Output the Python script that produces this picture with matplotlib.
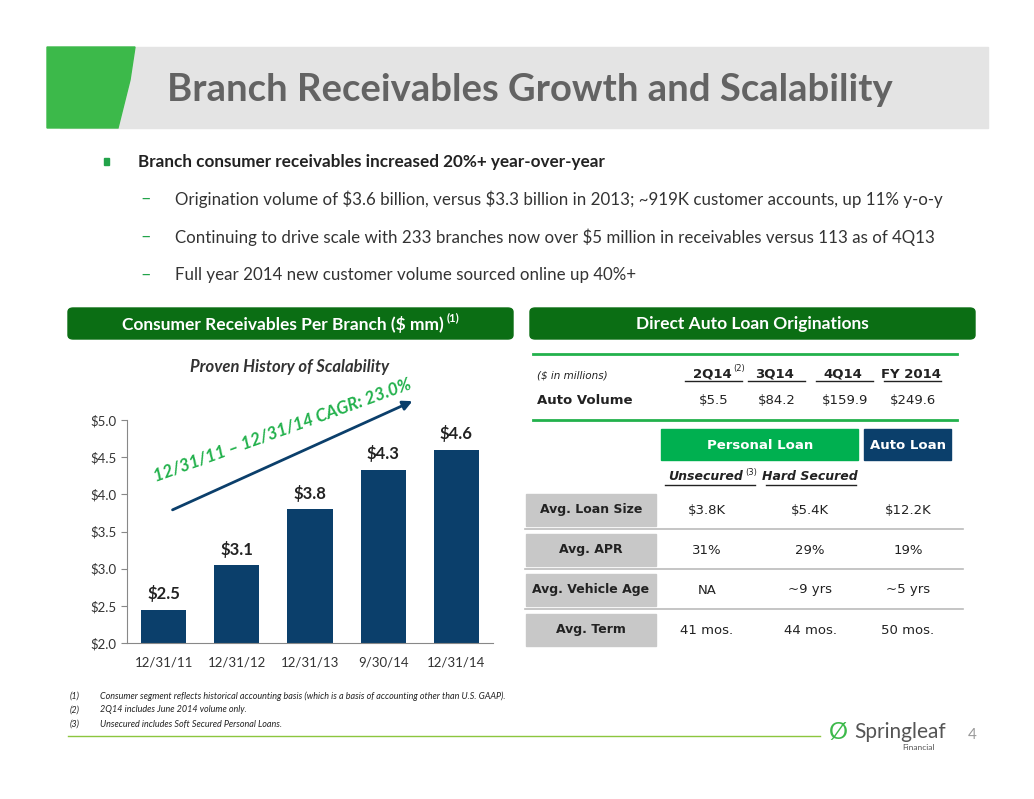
import matplotlib
matplotlib.use("Agg")
import matplotlib.pyplot as plt
from matplotlib.patches import Rectangle, FancyBboxPatch, Polygon
import numpy as np

plt.rcParams['text.parse_math'] = False

categories = ["12/31/11", "12/31/12", "12/31/13", "9/30/14", "12/31/14"]
values = [2.45, 3.05, 3.80, 4.33, 4.60]
value_labels = ["$2.5", "$3.1", "$3.8", "$4.3", "$4.6"]
yticks = [2.0, 2.5, 3.0, 3.5, 4.0, 4.5, 5.0]

auto_cols = ["2Q14", "3Q14", "4Q14", "FY 2014"]
auto_vals = ["$5.5", "$84.2", "$159.9", "$249.6"]
row_labels = ["Avg. Loan Size", "Avg. APR", "Avg. Vehicle Age", "Avg. Term"]
unsecured = ["$3.8K", "31%", "NA", "41 mos."]
hard_secured = ["$5.4K", "29%", "~9 yrs", "44 mos."]
auto_loan = ["$12.2K", "19%", "~5 yrs", "50 mos."]

W, H = 1034, 799
fig = plt.figure(figsize=(W/100, H/100), dpi=100)
BODY = "Lato"
TAB = "DejaVu Sans"

def fx(x): return x / W
def fy(y): return 1 - y / H
def T(x, y, s, **kw):
    return fig.text(fx(x), fy(y), s, **kw)
def rect(x0, y0, x1, y1, **kw):
    fig.patches.append(Rectangle((fx(x0), fy(y1)), fx(x1) - fx(x0), fy(y0) - fy(y1),
                                 transform=fig.transFigure, **kw))
def hline(x0, x1, y, **kw):
    fig.add_artist(plt.Line2D([fx(x0), fx(x1)], [fy(y), fy(y)], transform=fig.transFigure, **kw))

# title band
rect(60, 47, 988, 128, color="#e4e4e4", zorder=0)
fig.patches.append(Polygon([(fx(47), fy(47)), (fx(135), fy(47)), (fx(130), fy(80)), (fx(118), fy(128)), (fx(47), fy(128))],
                           closed=True, transform=fig.transFigure, color="#3cb94a", zorder=1))
T(167, 90, "Branch Receivables Growth and Scalability", fontsize=27.5, fontweight="bold",
  color="#636363", family=BODY, va="center")

# bullets
rect(104, 158, 109, 165, color="#22a34a")
T(138, 162, "Branch consumer receivables increased 20%+ year-over-year", fontsize=12.3,
  fontweight="bold", color="#222222", family=BODY, va="center")
subs = ["Origination volume of $3.6 billion, versus $3.3 billion in 2013; ~919K customer accounts, up 11% y-o-y",
        "Continuing to drive scale with 233 branches now over $5 million in receivables versus 113 as of 4Q13",
        "Full year 2014 new customer volume sourced online up 40%+"]
for i, s in enumerate(subs):
    y = 199 + i * 38
    T(140, y, "–", fontsize=13, color="#22a34a", family=BODY, va="center")
    T(175, y, s, fontsize=12.2, color="#333333", family=BODY, va="center")

# green header boxes
for x0, x1 in [(68, 513), (530, 975)]:
    fig.patches.append(FancyBboxPatch((fx(x0), fy(339)), fx(x1) - fx(x0), fy(308) - fy(339),
                       boxstyle="round,pad=0,rounding_size=0.005", transform=fig.transFigure,
                       color="#0b6e14"))
T(283, 324, "Consumer Receivables Per Branch ($ mm)", fontsize=12.5, fontweight="bold",
  color="white", family=BODY, ha="center", va="center")
T(453, 318, "(1)", fontsize=8, fontweight="bold", color="white", family=BODY, ha="center", va="center")
T(752, 324, "Direct Auto Loan Originations", fontsize=12.5, fontweight="bold",
  color="white", family=BODY, ha="center", va="center")

# chart
T(290, 367, "Proven History of Scalability", fontsize=12, fontweight="bold",
  style="italic", color="#333333", family=BODY, ha="center", va="center")
ax = fig.add_axes([fx(127), fy(643), fx(493) - fx(127), fy(420) - fy(643)])
x = np.arange(len(categories))
ax.bar(x, values, width=0.62, color="#0b3f6b")
ax.set_ylim(2.0, 5.0)
ax.set_xlim(-0.5, 4.5)
ax.set_yticks(yticks)
ax.set_yticklabels([f"${v:.1f}" for v in yticks], fontsize=9.5, family=BODY, color="#333333")
ax.set_xticks(x)
ax.set_xticklabels(categories, fontsize=9.5, family=BODY, color="#333333")
ax.tick_params(axis="x", length=0, pad=10)
ax.tick_params(axis="y", length=4, color="#888888")
for s in ["top", "right"]:
    ax.spines[s].set_visible(False)
for s in ["left", "bottom"]:
    ax.spines[s].set_color("#888888")
for xi, v, lab in zip(x, values, value_labels):
    ax.text(xi, v + 0.1, lab, ha="center", va="bottom", fontsize=12, fontweight="bold",
            family=BODY, color="#222222")

# CAGR arrow
fig.add_artist(matplotlib.patches.FancyArrowPatch((fx(170), fy(511)), (fx(415), fy(400)),
               transform=fig.transFigure, arrowstyle="-|>", mutation_scale=14,
               color="#0b3f6b", lw=2))
T(282, 430, "12/31/11 – 12/31/14 CAGR: 23.0%", fontsize=12.5, fontweight="bold",
  style="italic", color="#22b14c", family=BODY, ha="center", va="center", rotation=20,
  rotation_mode="anchor")

# auto volume table
TS = 9.5
hline(533, 957, 354, color="#22b14c", lw=2)
hline(533, 957, 420, color="#22b14c", lw=2)
T(537, 376, "($ in millions)", fontsize=7.5, style="italic", color="#222222", family=TAB, va="center")
T(537, 401, "Auto Volume", fontsize=TS, fontweight="bold", color="#222222", family=TAB, va="center")
col_x = [714, 777, 845, 913]
for cx, c, v in zip(col_x, auto_cols, auto_vals):
    T(cx - 2, 374, c, fontsize=TS, fontweight="bold", color="#222222", family=TAB, ha="center", va="center")
    hline(cx - 29, cx + 28, 381, color="#222222", lw=1)
    T(cx, 401, v, fontsize=TS, color="#222222", family=TAB, ha="center", va="center")
T(733, 369, "(2)", fontsize=6, color="#222222", family=TAB, va="center")

# loan header
rect(661, 429, 858, 460, color="#00b050")
T(760, 445, "Personal Loan", fontsize=TS, fontweight="bold", color="white", family=TAB, ha="center", va="center")
rect(864, 429, 951, 460, color="#0b3f6b")
T(908, 445, "Auto Loan", fontsize=TS, fontweight="bold", color="white", family=TAB, ha="center", va="center")
T(706, 476, "Unsecured", fontsize=9, fontweight="bold", style="italic", color="#222222", family=TAB, ha="center", va="center")
T(745, 472, "(3)", fontsize=6, color="#222222", family=TAB, va="center")
T(810, 476, "Hard Secured", fontsize=9, fontweight="bold", style="italic", color="#222222", family=TAB, ha="center", va="center")
hline(665, 755, 485, color="#222222", lw=1)
hline(766, 856, 485, color="#222222", lw=1)

for i, lab in enumerate(row_labels):
    yc = 510 + i * 40
    rect(526, yc - 16, 656, yc + 16, color="#c8c8c8")
    T(591, yc, lab, fontsize=9, fontweight="bold", color="#222222", family=TAB, ha="center", va="center")
    for cx, vals in zip([707, 810, 908], [unsecured, hard_secured, auto_loan]):
        T(cx, yc, vals[i], fontsize=TS, color="#222222", family=TAB, ha="center", va="center")
    if i < 3:
        hline(525, 963, yc + 19, color="#bbbbbb", lw=1.2)

# footnotes
notes = ["Consumer segment reflects historical accounting basis (which is a basis of accounting other than U.S. GAAP).",
         "2Q14 includes June 2014 volume only.",
         "Unsecured includes Soft Secured Personal Loans."]
for i, n in enumerate(notes):
    y = 696 + i * 14
    T(70, y, f"({i+1})", fontsize=6.5, style="italic", color="#222222", family=BODY, va="center")
    T(100, y, n, fontsize=6.5, style="italic", color="#222222", family=BODY, va="center")

hline(68, 820, 736, color="#8cc63f", lw=1)
T(838, 732, "Ø", fontsize=17, color="#3cb94a", family=BODY, ha="center", va="center")
T(854, 732, "Springleaf", fontsize=15, color="#555555", family=BODY, ha="left", va="center")
T(935, 747, "Financial", fontsize=6, color="#555555", family=BODY, ha="right", va="center")
T(968, 735, "4", fontsize=11, color="#999999", family=BODY, va="center")

fig.savefig("out.png", dpi=100)
